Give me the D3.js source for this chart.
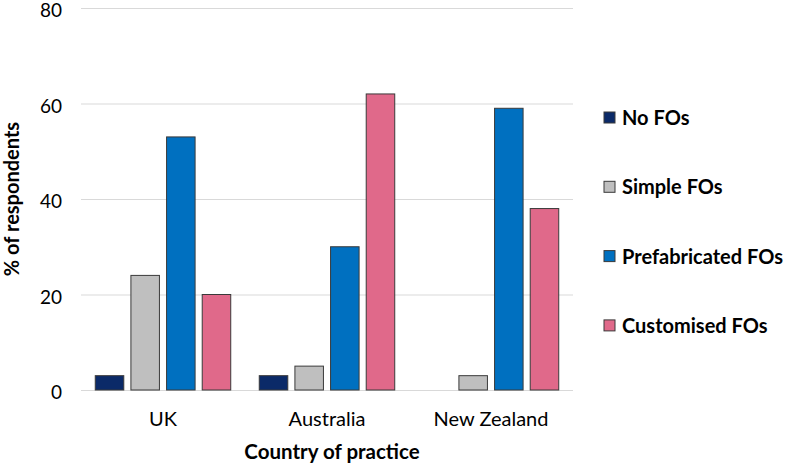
<!DOCTYPE html>
<html>
<head>
<meta charset="utf-8">
<script src="https://cdn.jsdelivr.net/npm/d3@7"></script>
<style>
  body { margin: 0; background: #fff; }
  text { font-family: Lato, "Open Sans", sans-serif; fill: #000; }
</style>
</head>
<body>
<svg id="drawing_region"></svg>
<script>
const countries = ['UK', 'Australia', 'New Zealand'];
const series = ['No FOs', 'Simple FOs', 'Prefabricated FOs', 'Customised FOs'];
const colors = ['#0b2a68', '#bfbfbf', '#0070c0', '#e0698a'];
const values = [
    [3, 24, 53, 20],   // UK
    [3, 5, 30, 62],    // Australia
    [0, 3, 59, 38]     // New Zealand
];
const yTicks = [0, 20, 40, 60, 80];

const config = {
    width: 787,
    height: 466,
    margin: { top: 8, right: 214, bottom: 76, left: 81 }
};

const inner_width = config.width - config.margin.left - config.margin.right;
const inner_height = config.height - config.margin.top - config.margin.bottom;

const svg = d3.select('#drawing_region')
    .attr('width', config.width)
    .attr('height', config.height);

const chart = svg.append('g')
    .attr('transform', `translate(${config.margin.left}, ${config.margin.top})`);

const x0 = d3.scaleBand()
    .domain(countries)
    .range([0, inner_width]);

const x1 = d3.scaleBand()
    .domain(series)
    .range([0, x0.bandwidth()])
    .paddingInner(0.2)
    .paddingOuter(0.4);

const yscale = d3.scaleLinear()
    .domain([0, 80])
    .range([inner_height, 0]);

// gridlines + tick labels
const yaxis = d3.axisLeft(yscale)
    .tickValues(yTicks)
    .tickSize(-inner_width)
    .tickPadding(19);

const yg = chart.append('g').call(yaxis);
yg.select('.domain').remove();
yg.selectAll('.tick line').attr('stroke', '#d9d9d9').attr('stroke-width', 1);
yg.selectAll('.tick text')
    .attr('font-size', 19)
    .attr('font-family', 'Lato, sans-serif')
    .attr('dy', '0.46em')
    .attr('fill', '#000');

// x labels
const xaxis = d3.axisBottom(x0).tickSize(0).tickPadding(22);
const xg = chart.append('g')
    .attr('transform', `translate(0, ${inner_height})`)
    .call(xaxis);
xg.select('.domain').remove();
xg.selectAll('.tick text')
    .attr('font-size', 20)
    .attr('font-family', 'Lato, sans-serif')
    .attr('fill', '#000');

// bars
const groups = chart.selectAll('.group')
    .data(countries)
    .enter()
    .append('g')
    .attr('transform', d => `translate(${x0(d)}, 0)`);

groups.selectAll('rect')
    .data((d, i) => series.map((s, j) => ({ s: s, v: values[i][j], c: colors[j] })))
    .enter()
    .filter(d => d.v > 0)
    .append('rect')
    .attr('x', d => x1(d.s))
    .attr('width', x1.bandwidth())
    .attr('y', d => yscale(d.v))
    .attr('height', d => inner_height - yscale(d.v))
    .attr('fill', d => d.c)
    .attr('stroke', '#3a3a3a')
    .attr('stroke-width', 1);

// axis titles
svg.append('text')
    .attr('transform', `translate(${config.margin.left + inner_width / 2 + 5}, 459)`)
    .attr('text-anchor', 'middle')
    .attr('font-size', 20.5)
    .attr('font-weight', 'bold')
    .text('Country of practice');

svg.append('text')
    .attr('transform', `translate(19, 199) rotate(-90)`)
    .attr('text-anchor', 'middle')
    .attr('font-size', 20)
    .attr('font-weight', 'bold')
    .text('% of respondents');

// legend
const legend = svg.append('g')
    .attr('transform', 'translate(604, 118)');

const items = legend.selectAll('g')
    .data(series)
    .enter()
    .append('g')
    .attr('transform', (d, i) => `translate(0, ${i * 69.3})`);

items.append('rect')
    .attr('x', 0)
    .attr('y', -6)
    .attr('width', 11)
    .attr('height', 11)
    .attr('fill', (d, i) => colors[i])
    .attr('stroke', '#3a3a3a')
    .attr('stroke-width', 1);

items.append('text')
    .attr('x', 18)
    .attr('y', 0)
    .attr('dy', '.35em')
    .attr('font-size', 20)
    .attr('font-weight', 'bold')
    .text(d => d);
</script>
</body>
</html>
